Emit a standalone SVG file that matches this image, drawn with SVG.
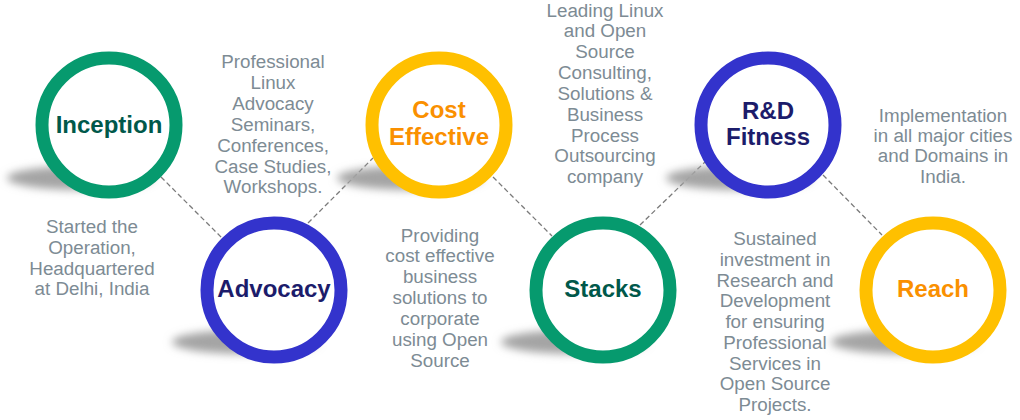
<svg xmlns="http://www.w3.org/2000/svg" width="1020" height="420" viewBox="0 0 1020 420">
  <defs>
    <filter id="blur" x="-30%" y="-100%" width="160%" height="300%">
      <feGaussianBlur stdDeviation="4"/>
    </filter>
    <style>
      .ring { fill: #ffffff; stroke-width: 13; }
      .green { stroke: #069a6e; }
      .blue { stroke: #3333cc; }
      .orange { stroke: #ffc000; }
      .shadow { fill: #a4a4a4; filter: url(#blur); }
      .lbl { font-family: "Liberation Sans", Arial, sans-serif; font-weight: bold; font-size: 24px; text-anchor: middle; }
      .lg { fill: #00584a; }
      .lb { fill: #1c1c6b; }
      .lo { fill: #fa9000; }
      .desc { font-family: "Liberation Sans", Arial, sans-serif; font-size: 18.8px; fill: #7d8b94; text-anchor: middle; }
      .conn { stroke: #7a7a7a; stroke-width: 1.3; stroke-dasharray: 5 3; fill: none; }
    </style>
  </defs>
  <rect width="1020" height="420" fill="#ffffff"/>

  <g id="connectors">
    <line class="conn" x1="161" y1="177" x2="222" y2="238"/>
    <line class="conn" x1="308" y1="223" x2="373" y2="158"/>
    <line class="conn" x1="493" y1="177" x2="552" y2="236"/>
    <line class="conn" x1="640" y1="225" x2="705" y2="162"/>
    <line class="conn" x1="823" y1="175" x2="882" y2="235"/>
  </g>

  <g id="inception">
    <ellipse class="shadow" cx="80" cy="178" rx="73" ry="12"/>
    <circle class="ring green" cx="109" cy="125" r="67"/>
    <text class="lbl lg" x="109" y="133">Inception</text>
  </g>
  <g id="advocacy">
    <ellipse class="shadow" cx="245" cy="342" rx="73" ry="12"/>
    <circle class="ring blue" cx="274" cy="290" r="67"/>
    <text class="lbl lb" x="274" y="297">Advocacy</text>
  </g>
  <g id="cost-effective">
    <ellipse class="shadow" cx="410" cy="178" rx="73" ry="12"/>
    <circle class="ring orange" cx="439" cy="125" r="67"/>
    <text class="lbl lo" x="439" y="118">Cost</text>
    <text class="lbl lo" x="439" y="145">Effective</text>
  </g>
  <g id="stacks">
    <ellipse class="shadow" cx="574" cy="342" rx="73" ry="12"/>
    <circle class="ring green" cx="603" cy="290" r="67"/>
    <text class="lbl lg" x="603" y="297">Stacks</text>
  </g>
  <g id="rd-fitness">
    <ellipse class="shadow" cx="739" cy="178" rx="73" ry="12"/>
    <circle class="ring blue" cx="768" cy="125" r="67"/>
    <text class="lbl lb" x="768" y="119">R&amp;D</text>
    <text class="lbl lb" x="768" y="145">Fitness</text>
  </g>
  <g id="reach">
    <ellipse class="shadow" cx="904" cy="342" rx="73" ry="12"/>
    <circle class="ring orange" cx="933" cy="290" r="67"/>
    <text class="lbl lo" x="933" y="297">Reach</text>
  </g>

  <g id="desc-inception">
    <text class="desc" x="92" y="233">Started the</text>
    <text class="desc" x="92" y="254">Operation,</text>
    <text class="desc" x="92" y="275">Headquartered</text>
    <text class="desc" x="92" y="295">at Delhi, India</text>
  </g>
  <g id="desc-advocacy">
    <text class="desc" x="273" y="68">Professional</text>
    <text class="desc" x="273" y="89">Linux</text>
    <text class="desc" x="273" y="110">Advocacy</text>
    <text class="desc" x="273" y="131">Seminars,</text>
    <text class="desc" x="273" y="152">Conferences,</text>
    <text class="desc" x="273" y="173">Case Studies,</text>
    <text class="desc" x="273" y="193">Workshops.</text>
  </g>
  <g id="desc-cost">
    <text class="desc" x="440" y="242">Providing</text>
    <text class="desc" x="440" y="262">cost effective</text>
    <text class="desc" x="440" y="283">business</text>
    <text class="desc" x="440" y="304">solutions to</text>
    <text class="desc" x="440" y="325">corporate</text>
    <text class="desc" x="440" y="346">using Open</text>
    <text class="desc" x="440" y="367">Source</text>
  </g>
  <g id="desc-stacks">
    <text class="desc" x="605" y="17">Leading Linux</text>
    <text class="desc" x="605" y="37">and Open</text>
    <text class="desc" x="605" y="58">Source</text>
    <text class="desc" x="605" y="79">Consulting,</text>
    <text class="desc" x="605" y="100">Solutions &amp;</text>
    <text class="desc" x="605" y="121">Business</text>
    <text class="desc" x="605" y="142">Process</text>
    <text class="desc" x="605" y="162">Outsourcing</text>
    <text class="desc" x="605" y="183">company</text>
  </g>
  <g id="desc-rd">
    <text class="desc" x="775" y="245">Sustained</text>
    <text class="desc" x="775" y="266">investment in</text>
    <text class="desc" x="775" y="287">Research and</text>
    <text class="desc" x="775" y="307">Development</text>
    <text class="desc" x="775" y="328">for ensuring</text>
    <text class="desc" x="775" y="349">Professional</text>
    <text class="desc" x="775" y="370">Services in</text>
    <text class="desc" x="775" y="390">Open Source</text>
    <text class="desc" x="775" y="411">Projects.</text>
  </g>
  <g id="desc-reach">
    <text class="desc" x="943" y="122">Implementation</text>
    <text class="desc" x="943" y="142">in all major cities</text>
    <text class="desc" x="943" y="162">and Domains in</text>
    <text class="desc" x="943" y="183">India.</text>
  </g>
</svg>
